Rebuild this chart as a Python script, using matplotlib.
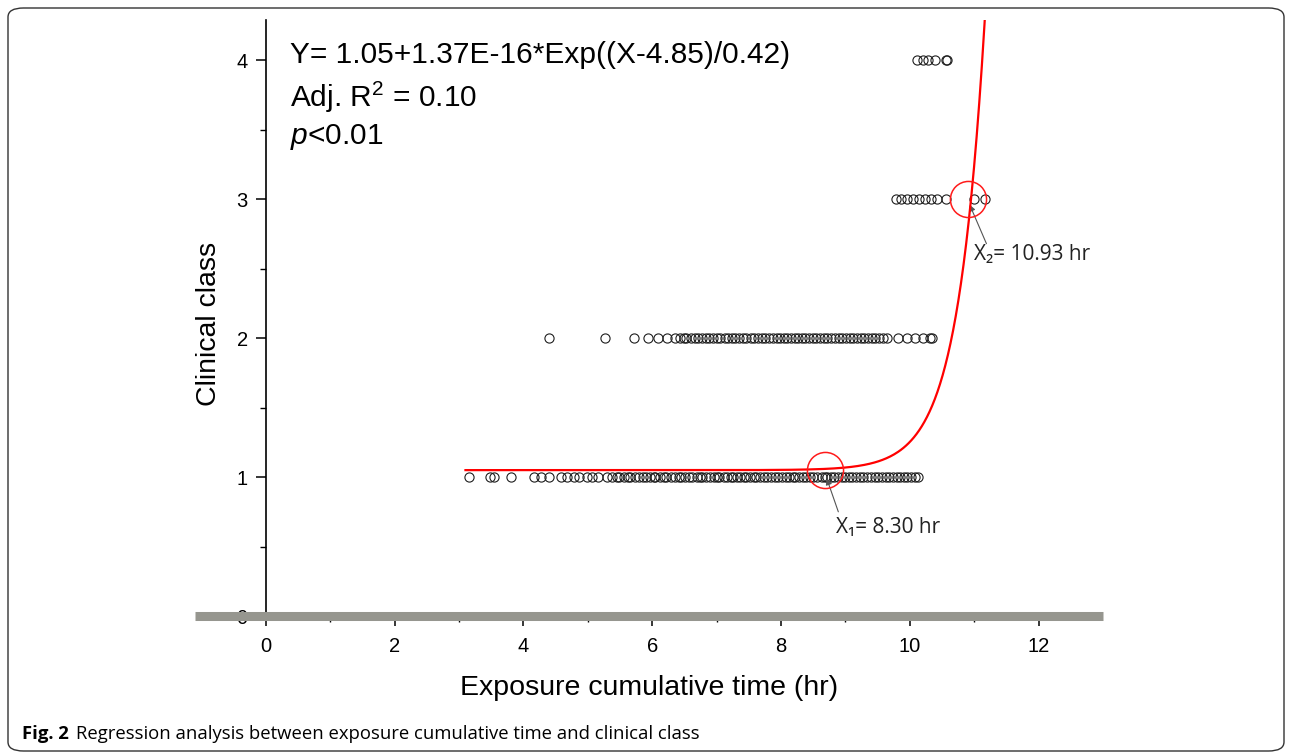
import numpy as np
import matplotlib
matplotlib.use('Agg')
import matplotlib.pyplot as plt
from matplotlib import font_manager
from matplotlib.patches import FancyBboxPatch

# data
class1_x = [3.15, 3.48, 3.55, 3.80, 4.16, 4.28, 4.40, 4.59, 4.67, 4.78, 4.87, 4.98, 5.07, 5.16, 5.30,
            5.38, 5.45, 5.49, 5.56, 5.62, 5.66, 5.74, 5.79, 5.85, 5.91, 5.97, 6.02, 6.05, 6.12, 6.18,
            6.22, 6.29, 6.35, 6.41, 6.44, 6.51, 6.57, 6.62, 6.69, 6.74, 6.77, 6.83, 6.89, 6.96, 7.01,
            7.04, 7.11, 7.16, 7.22, 7.25, 7.31, 7.37, 7.43, 7.46, 7.52, 7.58, 7.61, 7.68, 7.73, 7.79,
            7.84, 7.90, 7.95, 8.01, 8.07, 8.12, 8.18, 8.22, 8.28, 8.34, 8.39, 8.45, 8.50, 8.56, 8.63,
            8.68, 8.71, 8.77, 8.83, 8.88, 8.94, 9.00, 9.05, 9.11, 9.17, 9.22, 9.28, 9.34, 9.39, 9.46,
            9.51, 9.57, 9.63, 9.68, 9.74, 9.80, 9.85, 9.91, 9.96, 10.02, 10.08, 10.13]
class2_x = [4.39, 5.26, 5.72, 5.94, 6.09, 6.23, 6.36,
            6.43, 6.49, 6.53, 6.60, 6.66, 6.71, 6.78, 6.84, 6.88, 6.95, 7.00, 7.06, 7.13, 7.18,
            7.24, 7.29, 7.35, 7.41, 7.46, 7.53, 7.58, 7.64, 7.70, 7.75, 7.82, 7.87, 7.93, 7.99,
            8.04, 8.10, 8.16, 8.21, 8.27, 8.33, 8.38, 8.44, 8.50, 8.55, 8.61, 8.67, 8.72, 8.78,
            8.84, 8.90, 8.95, 9.01, 9.07, 9.12, 9.18, 9.24, 9.29, 9.35, 9.41, 9.46, 9.52, 9.58,
            9.64, 9.81, 9.95, 10.08, 10.20, 10.31, 10.35]
class3_x = [9.78, 9.87, 9.95, 10.05, 10.14, 10.23, 10.33, 10.42, 10.56, 10.99, 11.16]
class4_x = [10.11, 10.21, 10.29, 10.39, 10.56, 10.58]

# fitted curve Y = y0 + exp((X - xc)/t), as traced on the figure
y0 = 1.05
xc = 10.67
t = 0.42
x_start = 3.1
x_end = 11.2

x1_pt = (8.68, 1.05)
x2_pt = (10.90, 3.0)

xticks = [0, 2, 4, 6, 8, 10, 12]
yticks = [0, 1, 2, 3, 4]

# fonts
names = set(f.name for f in font_manager.fontManager.ttflist)
narrow = 'Liberation Sans Narrow' if 'Liberation Sans Narrow' in names else 'Open Sans'
plt.rcParams['font.family'] = ['Liberation Sans', 'DejaVu Sans']
plt.rcParams['mathtext.fontset'] = 'custom'
plt.rcParams['mathtext.rm'] = 'Liberation Sans'
plt.rcParams['mathtext.it'] = 'Liberation Sans:italic'

fig = plt.figure(figsize=(12.92, 7.55), dpi=100)
ax = fig.add_axes([195/1292, 139/755, 908/1292, 596/755])

mk = dict(ls='none', marker='o', ms=6.6, mfc='none', mec='#1e1e1e', mew=0.8)
ax.plot(class1_x, [1]*len(class1_x), **mk)
ax.plot(class2_x, [2]*len(class2_x), **mk)
ax.plot(class3_x, [3]*len(class3_x), **mk)
ax.plot(class4_x, [4]*len(class4_x), **mk)

xx = np.linspace(x_start, x_end, 400)
ax.plot(xx, y0 + np.exp((xx - xc)/t), color='#ff0000', lw=1.6, zorder=4)

# red circles
for p in [x1_pt, x2_pt]:
    ax.plot(p[0], p[1], marker='o', ms=26, mfc='none', mec='#ff1a1a', mew=1.1, zorder=5)

# arrows + labels
arr = dict(arrowstyle='-|>', color='#555555', lw=0.8, mutation_scale=9, shrinkA=0, shrinkB=0)
ax.annotate('', xy=(8.71, 0.99), xytext=(8.89, 0.75), arrowprops=arr)
ax.annotate('', xy=(10.93, 2.96), xytext=(11.19, 2.68), arrowprops=arr)
ax.text(8.85, 0.64, 'X\u2081= 8.30 hr', fontsize=15, va='center', ha='left',
        family=[narrow, 'DejaVu Sans'], color='#222222')
ax.text(10.99, 2.60, 'X\u2082= 10.93 hr', fontsize=15, va='center', ha='left',
        family=[narrow, 'DejaVu Sans'], color='#222222')

# equation text
ax.text(0.38, 4.04, 'Y= 1.05+1.37E-16*Exp((X-4.85)/0.42)', fontsize=21.5, va='center')
ax.text(0.38, 3.73, 'Adj. R$^2$ = 0.10', fontsize=21.5, va='center')
ax.text(0.38, 3.45, '$p$<0.01', fontsize=21.5, va='center')

ax.set_xlim(-1.1, 13.0)
ax.set_ylim(0, 4.29)
ax.set_xticks(xticks)
ax.set_yticks(yticks)
ax.set_xticks([1, 3, 5, 7, 9, 11], minor=True)
ax.set_yticks([0.5, 1.5, 2.5, 3.5], minor=True)

for s in ['top', 'right', 'bottom']:
    ax.spines[s].set_visible(False)
ax.spines['left'].set_position(('data', 0))
ax.spines['left'].set_linewidth(1.2)
ax.tick_params(axis='both', which='major', direction='out', length=7, width=1.1, labelsize=14.5)
ax.tick_params(axis='both', which='minor', direction='out', length=4, width=1.0)
ax.tick_params(axis='x', pad=8)
ax.tick_params(axis='y', pad=6)

# grey band standing in for the x axis line
ax.axhline(0, color='#96968f', lw=6.5, clip_on=False, zorder=6, solid_capstyle='butt')

ax.set_xlabel('Exposure cumulative time (hr)', fontsize=20.5, labelpad=14)
ax.set_ylabel('Clinical class', fontsize=20.5)
ax.yaxis.set_label_coords((222-195)/908, 0.49)

# caption
fig.text(22/1292, 1 - 734/755, 'Fig. 2', fontsize=13.3, weight='bold', va='center',
         family=[narrow, 'DejaVu Sans'])
fig.text(76/1292, 1 - 734/755, 'Regression analysis between exposure cumulative time and clinical class',
         fontsize=13.3, va='center', family=[narrow, 'DejaVu Sans'])

# rounded frame
frame = FancyBboxPatch((8/1292, 4/755), 1276/1292, 743/755, boxstyle='round,pad=0,rounding_size=0.012',
                       transform=fig.transFigure, fill=False, ec='#333333', lw=1.0)
fig.patches.append(frame)

plt.savefig('out.png', dpi=100)
plt.close()
